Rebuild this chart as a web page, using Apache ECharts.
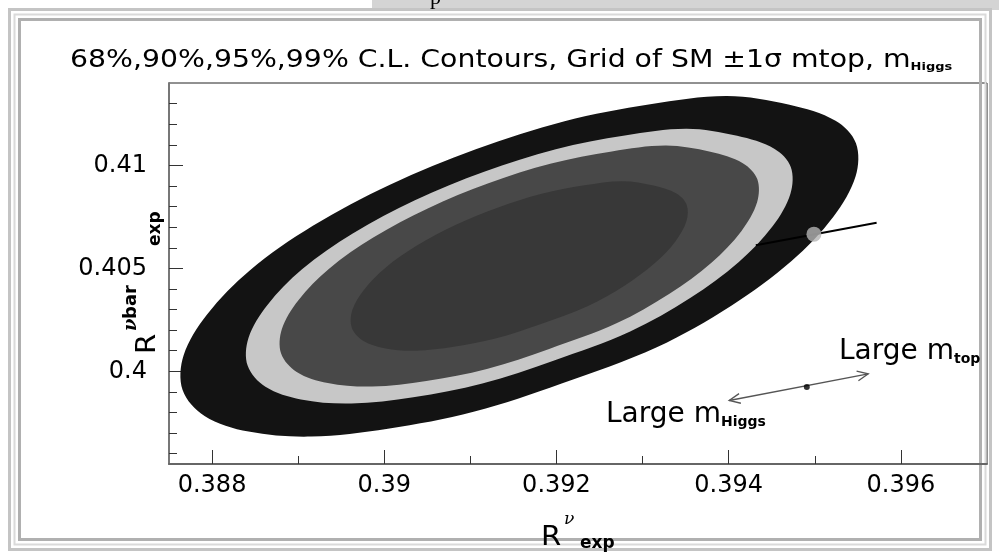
<!DOCTYPE html>
<html><head><meta charset="utf-8">
<script src="https://cdn.jsdelivr.net/npm/echarts@6/dist/echarts.min.js"></script>
<style>html,body{margin:0;padding:0;background:#fff}#c{width:999px;height:554px}</style>
</head><body><div id="c"></div>
<script>
// ---- data ----
const xMajor = [0.388, 0.39, 0.392, 0.394, 0.396];
const xMinor = [0.389, 0.391, 0.393, 0.395];
const yMajor = [0.4, 0.405, 0.41];
const yMinor = [0.396,0.397,0.398,0.399,0.401,0.402,0.403,0.404,0.406,0.407,0.408,0.409,0.411,0.412,0.413];

// 99% C.L. contour boundary
const x99 = [0.395478,0.395475,0.395216,0.394730,0.394035,0.393165,0.392060,0.391037,0.390042,0.389151,0.388424,0.387913,0.387658,0.387670,0.387942,0.388441,0.389171,0.390066,0.391063,0.392094,0.393089,0.393979,0.394706,0.395241];
const y99 = [0.411078,0.409481,0.407500,0.405354,0.403199,0.401170,0.399413,0.398034,0.397209,0.396830,0.397073,0.397835,0.399097,0.400782,0.402762,0.404908,0.407063,0.409063,0.410786,0.412146,0.412971,0.413374,0.412947,0.412170];
// 95% C.L.
const x95 = [0.394721,0.394718,0.394510,0.394118,0.393557,0.392856,0.391965,0.391139,0.390337,0.389618,0.389032,0.388620,0.388414,0.388423,0.388643,0.389045,0.389634,0.390356,0.391160,0.391992,0.392794,0.393512,0.394098,0.394529];
const y95 = [0.409927,0.408639,0.407042,0.405311,0.403573,0.401936,0.400519,0.399407,0.398742,0.398436,0.398632,0.399247,0.400265,0.401623,0.403221,0.404951,0.406689,0.408302,0.409692,0.410788,0.411454,0.411779,0.411434,0.410808];
// 90% C.L.
const x90 = [0.394332,0.394330,0.394147,0.393803,0.393312,0.392697,0.391915,0.391191,0.390488,0.389858,0.389344,0.388983,0.388802,0.388811,0.389003,0.389356,0.389872,0.390505,0.391210,0.391939,0.392643,0.393272,0.393786,0.394164];
const y90 = [0.409336,0.408207,0.406806,0.405289,0.403765,0.402330,0.401088,0.400113,0.399529,0.399261,0.399433,0.399972,0.400865,0.402056,0.403456,0.404973,0.406497,0.407911,0.409130,0.410091,0.410675,0.410960,0.410657,0.410108];
// 68% C.L.
const x68 = [0.393512,0.393510,0.393381,0.393140,0.392794,0.392361,0.391812,0.391302,0.390807,0.390365,0.390003,0.389749,0.389622,0.389628,0.389763,0.390011,0.390374,0.390820,0.391316,0.391828,0.392323,0.392766,0.393128,0.393393];
const y68 = [0.408089,0.407295,0.406309,0.405242,0.404170,0.403161,0.402287,0.401601,0.401191,0.401002,0.401123,0.401502,0.402130,0.402968,0.403953,0.405020,0.406092,0.407087,0.407944,0.408620,0.409031,0.409231,0.409019,0.408632];

// SM prediction grid line and central SM point
const smLineX = [0.394315, 0.395718];
const smLineY = [0.406126, 0.407209];
const smPoint = [0.39499, 0.40666];
// direction arrow (Large m_Higgs <-> Large m_top)
const arrowX = [0.394006, 0.395621];
const arrowY = [0.398583, 0.399879];
const arrowMid = [0.394907, 0.399233];

const FONT = 'DejaVu Sans';
const chart = echarts.init(document.getElementById('c'), null, {renderer: 'canvas'});

function contour(xs, ys, color, z) {
  return {
    type: 'custom', coordinateSystem: 'cartesian2d', xAxisIndex: 0, yAxisIndex: 0,
    z: z, silent: true, animation: false,
    data: xs.map((x, i) => [x, ys[i]]),
    renderItem(params, api) {
      if (params.dataIndex !== 0) return null;
      const pts = xs.map((x, i) => api.coord([x, ys[i]]));
      return {type: 'polygon', shape: {points: pts, smooth: 0.34}, style: {fill: color}};
    }
  };
}

const option = {
  backgroundColor: '#ffffff',
  animation: false,
  grid: [
    {left: 169, top: 83, right: 12, bottom: 90, show: true, borderColor: '#222', borderWidth: 1, backgroundColor: 'transparent'},
    {left: 169, top: 83, right: 12, bottom: 90, show: false}
  ],
  xAxis: [
    {type: 'value', gridIndex: 0, min: 0.3875, max: 0.397, position: 'bottom',
     axisLine: {show: true, lineStyle: {color: '#666', width: 2}},
     axisTick: {show: true, inside: true, length: 14, customValues: xMajor, lineStyle: {color: '#333', width: 1}},
     axisLabel: {show: true, customValues: xMajor, margin: 10, fontFamily: FONT, fontSize: 24, color: '#000',
                 formatter: v => String(+v.toFixed(3))},
     splitLine: {show: false}},
    {type: 'value', gridIndex: 1, min: 0.3875, max: 0.397, position: 'bottom',
     axisLine: {show: false}, axisLabel: {show: false}, splitLine: {show: false},
     axisTick: {show: true, inside: true, length: 8, customValues: xMinor, lineStyle: {color: '#333', width: 1}}}
  ],
  yAxis: [
    {type: 'value', gridIndex: 0, min: 0.3955, max: 0.414, position: 'left',
     axisLine: {show: true, lineStyle: {color: '#777', width: 2}},
     axisTick: {show: true, inside: true, length: 14, customValues: yMajor, lineStyle: {color: '#333', width: 1}},
     axisLabel: {show: true, customValues: yMajor, margin: 22, fontFamily: FONT, fontSize: 24, color: '#000',
                 formatter: v => String(+v.toFixed(3))},
     splitLine: {show: false}},
    {type: 'value', gridIndex: 1, min: 0.3955, max: 0.414, position: 'left',
     axisLine: {show: false}, axisLabel: {show: false}, splitLine: {show: false},
     axisTick: {show: true, inside: true, length: 8, customValues: yMinor, lineStyle: {color: '#333', width: 1}}}
  ],
  series: [
    contour(x99, y99, '#131313', 1),
    contour(x95, y95, '#c7c7c7', 2),
    contour(x90, y90, '#484848', 3),
    contour(x68, y68, '#383838', 4),
    {type: 'line', xAxisIndex: 0, yAxisIndex: 0, z: 5, silent: true, symbol: 'none',
     data: smLineX.map((x, i) => [x, smLineY[i]]),
     lineStyle: {color: '#000', width: 2}},
    {type: 'scatter', xAxisIndex: 0, yAxisIndex: 0, z: 6, silent: true,
     data: [smPoint], symbol: 'circle', symbolSize: 15, itemStyle: {color: '#b4b4b4'}},
    {type: 'custom', coordinateSystem: 'cartesian2d', xAxisIndex: 0, yAxisIndex: 0, z: 6, silent: true,
     data: [[arrowX[0], arrowY[0]]],
     renderItem(params, api) {
       const a = api.coord([arrowX[0], arrowY[0]]);
       const b = api.coord([arrowX[1], arrowY[1]]);
       const ang = Math.atan2(b[1] - a[1], b[0] - a[0]);
       const L = 12, h = 0.42;
       const head = (p, dir) => [
         [p[0] - dir * L * Math.cos(ang - h), p[1] - dir * L * Math.sin(ang - h)],
         p,
         [p[0] - dir * L * Math.cos(ang + h), p[1] - dir * L * Math.sin(ang + h)]
       ];
       const st = {stroke: '#555', lineWidth: 1.3, fill: null};
       return {type: 'group', children: [
         {type: 'line', shape: {x1: a[0], y1: a[1], x2: b[0], y2: b[1]}, style: st},
         {type: 'polyline', shape: {points: head(b, 1)}, style: st},
         {type: 'polyline', shape: {points: head(a, -1)}, style: st}
       ]};
     }},
    {type: 'scatter', xAxisIndex: 0, yAxisIndex: 0, z: 7, silent: true,
     data: [arrowMid], symbol: 'circle', symbolSize: 6, itemStyle: {color: '#000'}}
  ],
  graphic: [
    // page border decoration
    {type: 'rect', z: 0, silent: true, shape: {x: 372, y: 0, width: 627, height: 10}, style: {fill: '#d4d4d4'}},
    {type: 'text', z: 1, silent: true, x: 430, y: 9, style: {text: 'p', font: '22px "Liberation Serif"', fill: '#000', verticalAlign: 'bottom'}},
    {type: 'rect', z: 0, silent: true, shape: {x: 9.5, y: 9.5, width: 981, height: 540}, style: {fill: null, stroke: '#c4c4c4', lineWidth: 3}},
    {type: 'rect', z: 0, silent: true, shape: {x: 14.5, y: 14.5, width: 971, height: 530}, style: {fill: null, stroke: '#dadada', lineWidth: 2}},
    {type: 'rect', z: 0, silent: true, shape: {x: 19.5, y: 19.5, width: 961, height: 520}, style: {fill: null, stroke: '#b0b0b0', lineWidth: 3}},
    // title
    {type: 'text', silent: true, x: 70, y: 59, scaleX: 1.18, style: {
      text: '{a|68%,90%,95%,99% C.L. Contours, Grid of SM \u00b11\u03c3 mtop, m}{s|Higgs}',
      verticalAlign: 'middle', fill: '#000',
      rich: {a: {fontFamily: FONT, fontSize: 24, lineHeight: 28, verticalAlign: 'bottom'},
             s: {fontFamily: FONT, fontSize: 11, fontWeight: 'bold', lineHeight: 12, verticalAlign: 'bottom'}}}},
    // x-axis title  R^nu_exp
    {type: 'text', silent: true, x: 541, y: 538, scaleX: 1.12, style: {text: 'R', font: '26px "DejaVu Sans"', fill: '#000', verticalAlign: 'middle'}},
    {type: 'text', silent: true, x: 564, y: 520, style: {text: '\u03bd', font: 'italic 17px "DejaVu Serif"', fill: '#000', verticalAlign: 'middle'}},
    {type: 'text', silent: true, x: 580, y: 544, style: {text: 'exp', font: 'bold 17px "DejaVu Sans"', fill: '#000', verticalAlign: 'middle'}},
    // y-axis title  R^nubar_exp (rotated)
    {type: 'text', silent: true, x: 148, y: 354, rotation: Math.PI / 2, scaleX: 1.12, style: {text: 'R', font: '26px "DejaVu Sans"', fill: '#000', align: 'left', verticalAlign: 'middle'}},
    {type: 'text', silent: true, x: 131, y: 331, rotation: Math.PI / 2, style: {text: '\u03bd', font: 'italic bold 18px "DejaVu Serif"', fill: '#000', align: 'left', verticalAlign: 'middle'}},
    {type: 'text', silent: true, x: 131, y: 319, rotation: Math.PI / 2, style: {text: 'bar', font: 'bold 18px "DejaVu Sans"', fill: '#000', align: 'left', verticalAlign: 'middle'}},
    {type: 'text', silent: true, x: 156, y: 246, rotation: Math.PI / 2, style: {text: 'exp', font: 'bold 17px "DejaVu Sans"', fill: '#000', align: 'left', verticalAlign: 'middle'}},
    // annotations
    {type: 'text', silent: true, z: 10, x: 839, y: 350, style: {
      text: '{a|Large m}{s|top}', verticalAlign: 'middle', fill: '#000',
      rich: {a: {fontFamily: FONT, fontSize: 28, lineHeight: 32, verticalAlign: 'bottom'},
             s: {fontFamily: FONT, fontSize: 14, fontWeight: 'bold', lineHeight: 14, verticalAlign: 'bottom'}}}},
    {type: 'text', silent: true, z: 10, x: 606, y: 413, style: {
      text: '{a|Large m}{s|Higgs}', verticalAlign: 'middle', fill: '#000',
      rich: {a: {fontFamily: FONT, fontSize: 28, lineHeight: 32, verticalAlign: 'bottom'},
             s: {fontFamily: FONT, fontSize: 14, fontWeight: 'bold', lineHeight: 14, verticalAlign: 'bottom'}}}}
  ]
};
chart.setOption(option);
</script>
</body></html>
